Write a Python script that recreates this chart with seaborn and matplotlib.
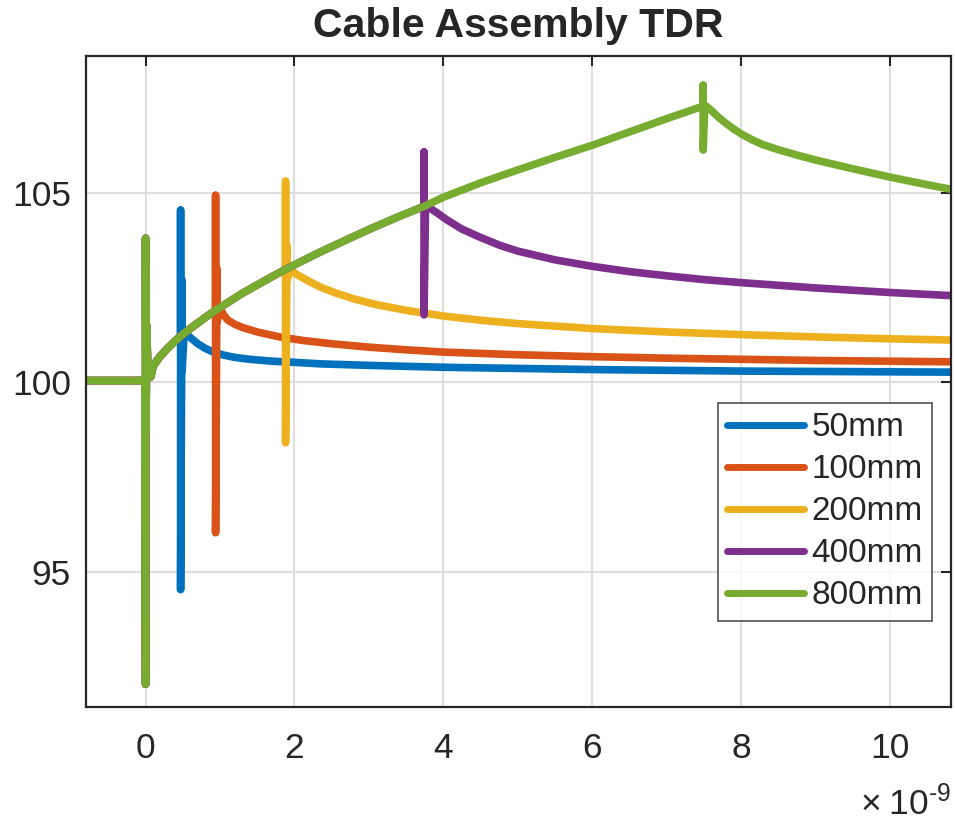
import numpy as np
import pandas as pd
import matplotlib
matplotlib.use("Agg")
import matplotlib.pyplot as plt
import seaborn as sns

# ---------------- data (time in ns, impedance in ohm) ----------------
cables = ["50mm", "100mm", "200mm", "400mm", "800mm"]
colors = ["#0072BD", "#D95319", "#EDB120", "#7E2F8E", "#77AC30"]

# flat part before the launch
pre_t = [-1.0, -0.01]
pre_z = [100.05, 100.05]

# launch discontinuity at t = 0 (shared by all cables)
launch_t = [0.0, 0.0, 0.005, 0.015, 0.03, 0.07]
launch_z = [92.05, 103.8, 98.7, 101.5, 100.2, 100.15]

# shared rising segment (cable loss)
rise_t = [0.07, 0.1, 0.15, 0.2, 0.3, 0.4, 0.47, 0.6, 0.8, 0.94, 1.1, 1.3, 1.5,
          1.7, 1.88, 2.0, 2.35, 2.7, 3.0, 3.4, 3.74, 4.0, 4.5, 5.0, 5.5, 6.0,
          6.5, 7.0, 7.49]
rise_z = [100.15, 100.42, 100.57, 100.7, 100.91, 101.1, 101.22, 101.42,
          101.71, 101.9, 102.1, 102.35, 102.57, 102.79, 102.98, 103.1, 103.44,
          103.76, 104.03, 104.37, 104.64, 104.88, 105.26, 105.6, 105.93,
          106.25, 106.6, 106.95, 107.28]

# far-end connector spikes
spike_t = {
    "50mm":  [0.47, 0.47, 0.49, 0.49, 0.52],
    "100mm": [0.94, 0.94, 0.96, 0.96, 1.0],
    "200mm": [1.88, 1.88, 1.90, 1.90, 1.95],
    "400mm": [3.74, 3.74, 3.76, 3.80, 3.83],
    "800mm": [7.49, 7.49, 7.51, 7.53, 7.58],
}
spike_z = {
    "50mm":  [104.54, 94.54, 102.7, 100.3, 101.4],
    "100mm": [104.93, 96.04, 103.0, 101.6, 101.95],
    "200mm": [105.3, 98.41, 103.6, 102.7, 102.96],
    "400mm": [106.07, 101.78, 104.6, 104.64, 104.58],
    "800mm": [107.83, 106.12, 107.26, 107.28, 107.2],
}

# tails after the far end
decay_t = {
    "50mm":  [0.58, 0.64, 0.7, 0.8, 0.91, 1.05, 1.2, 1.4, 1.7, 2.0, 2.35,
              3.0, 4.0, 5.0, 6.0, 7.0, 8.0, 9.0, 10.0, 11.0],
    "100mm": [1.05, 1.1, 1.2, 1.3, 1.5, 1.8, 2.1, 2.5, 3.0, 3.5, 4.0, 5.0,
              6.0, 7.0, 8.0, 9.0, 10.0, 11.0],
    "200mm": [2.05, 2.2, 2.35, 2.55, 2.8, 3.1, 3.5, 4.0, 4.5, 5.0, 6.0, 7.0,
              8.0, 9.0, 10.0, 11.0],
    "400mm": [3.95, 4.05, 4.25, 4.5, 4.75, 5.0, 5.5, 6.0, 6.5, 7.0, 7.5, 8.0,
              9.0, 10.0, 11.0],
    "800mm": [7.7, 7.8, 7.9, 8.0, 8.15, 8.3, 8.52, 8.75, 9.0, 9.5, 10.0,
              10.5, 11.0],
}
decay_z = {
    "50mm":  [101.22, 101.12, 101.02, 100.9, 100.8, 100.72, 100.66, 100.61,
              100.56, 100.53, 100.49, 100.45, 100.4, 100.37, 100.34, 100.32,
              100.3, 100.29, 100.28, 100.27],
    "100mm": [101.78, 101.65, 101.53, 101.45, 101.33, 101.2, 101.11, 101.02,
              100.93, 100.86, 100.8, 100.73, 100.68, 100.64, 100.61, 100.58,
              100.56, 100.54],
    "200mm": [102.82, 102.66, 102.51, 102.36, 102.2, 102.05, 101.9, 101.75,
              101.64, 101.55, 101.42, 101.33, 101.26, 101.2, 101.15, 101.11],
    "400mm": [104.42, 104.28, 104.04, 103.82, 103.62, 103.46, 103.23, 103.06,
              102.92, 102.81, 102.71, 102.63, 102.49, 102.37, 102.27],
    "800mm": [106.98, 106.82, 106.68, 106.55, 106.39, 106.26, 106.12, 105.99,
              105.86, 105.63, 105.41, 105.21, 105.02],
}

x_ticks = [0, 2, 4, 6, 8, 10]
y_ticks = [95, 100, 105]

# ---------------- build long-form table ----------------
rows = []
for c in cables:
    ts = spike_t[c][0]
    t_all = pre_t + launch_t + [t for t in rise_t if t <= ts] + spike_t[c] + decay_t[c]
    z_all = pre_z + launch_z + [z for t, z in zip(rise_t, rise_z) if t <= ts] + spike_z[c] + decay_z[c]
    for i, (t, z) in enumerate(zip(t_all, z_all)):
        rows.append({"t": t, "Z": z, "cable": c, "order": i})
df = pd.DataFrame(rows)

# ---------------- plot ----------------
sns.set_style("white")
plt.rcParams["font.family"] = ["Liberation Sans", "DejaVu Sans"]
plt.rcParams["mathtext.fontset"] = "custom"
plt.rcParams["mathtext.rm"] = "Liberation Sans"
plt.rcParams["mathtext.it"] = "Liberation Sans:italic"
plt.rcParams["mathtext.bf"] = "Liberation Sans:bold"

fig = plt.figure(figsize=(9.55, 8.24), dpi=100)
ax = fig.add_axes([0.0901, 0.1420, 0.9058, 0.7900])

sns.lineplot(data=df, x="t", y="Z", hue="cable", hue_order=cables,
             palette=colors, sort=False, estimator=None, units="cable",
             linewidth=5.5, ax=ax, legend=True)
for ln in ax.get_lines():
    ln.set_solid_capstyle("round")
    ln.set_solid_joinstyle("round")

ax.set_xlim(-0.8, 10.82)
ax.set_ylim(91.45, 108.6)
ax.set_xticks(x_ticks)
ax.set_xticklabels([str(v) for v in x_ticks])
ax.set_yticks(y_ticks)
ax.set_xlabel("")
ax.set_ylabel("")

ax.grid(True, color="#dedede", linewidth=1.5)
ax.set_axisbelow(True)
for s in ax.spines.values():
    s.set_color("#262626")
    s.set_linewidth(1.6)
ax.tick_params(direction="in", length=7, width=1.5, colors="#262626",
               labelsize=25.5, labelcolor="#262626", top=True, right=True)
ax.tick_params(axis="y", pad=11)
ax.tick_params(axis="x", pad=18)

fig.text(951 / 955, 1 - 815 / 824, r"$\times\;10^{\text{-}9}$", ha="right",
         va="baseline", fontsize=25.5, color="#262626")

ax.set_title("Cable Assembly TDR", fontsize=29.5, fontweight="bold", pad=14)

leg = ax.legend(loc="upper right", bbox_to_anchor=(0.978, 0.467),
                borderaxespad=0, fontsize=24, handlelength=2.3,
                handletextpad=0.22, labelspacing=0.33, borderpad=0.28,
                frameon=True, fancybox=False)
leg.get_frame().set_edgecolor("#262626")
leg.get_frame().set_linewidth(1.2)
for h in leg.get_lines():
    h.set_linewidth(5)

fig.savefig("out.png", dpi=100)
